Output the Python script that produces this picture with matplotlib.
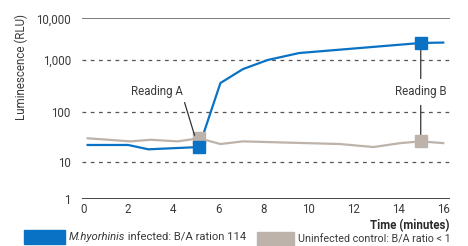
import numpy as np
import matplotlib
matplotlib.use("Agg")
import matplotlib.pyplot as plt
from matplotlib.patches import Rectangle

plt.rcParams['font.family'] = ['Roboto', 'DejaVu Sans']

# ---- data ----
infected_t = [0.2, 2.0, 2.9, 5.15, 6.1, 7.1, 8.2, 9.6, 15.0, 16.0]
infected_rlu = [22, 22, 18, 20, 363, 670, 1000, 1470, 2560, 2620]
control_t = [0.2, 2.1, 3.0, 4.2, 5.15, 6.1, 7.1, 11.4, 12.9, 14.1, 15.0, 16.0]
control_rlu = [30, 26, 28, 26, 30, 23, 26, 23, 20, 24, 26, 24]
reading_a_t = 5.15
reading_b_t = 15.0
reading_a = {"infected": 20, "control": 30}
reading_b = {"infected": 2560, "control": 26}
x_ticks = [0, 2, 4, 6, 8, 10, 12, 14, 16]
y_ticks = [1, 10, 100, 1000, 10000]
y_tick_labels = ["1", "10", "100", "1,000", "10,000"]
legend_labels = ["M.hyorhinis", " infected: B/A ration 114", "Uninfected control: B/A ratio < 1"]

BLUE = "#0a72c4"
GRAY = "#bdb3aa"
TXT = "#3a3a3a"
FS = 8.0

# uneven decade spacing as in the reference
K = [-10, 0, 1, 2, 3, 4, 14]
P = [-373, 0, 37.3, 87, 139.3, 181, 598]

def fwd(y):
    y = np.asarray(y, float)
    l = np.log10(np.clip(y, 1e-10, None))
    return np.interp(l, K, P)

def inv(v):
    v = np.asarray(v, float)
    return 10 ** np.interp(v, P, K)

W, H = 468, 246
fig = plt.figure(figsize=(W/100, H/100), dpi=100)
ax = fig.add_axes([82/W, 1-199.3/H, (450-82)/W, (199.3-18.3)/H])
ax.set_yscale('function', functions=(fwd, inv))
ax.set_ylim(1, 10000)
ax.set_xlim(-0.05, 16.3)

for s in ['top', 'right', 'left', 'bottom']:
    ax.spines[s].set_visible(False)

for v in y_ticks:
    if v == 1:
        ax.axhline(v, color="#444444", lw=1.4, zorder=1)
    elif v == 10000:
        ax.axhline(v, color="#7a7a7a", lw=1.4, zorder=1)
    else:
        ax.axhline(v, color="#555555", lw=0.9, dashes=(3, 3.6), zorder=1)

ax.set_yticks(y_ticks)
ax.set_yticklabels(y_tick_labels)
ax.set_xticks(x_ticks)
ax.tick_params(axis='both', length=0, labelsize=FS + 0.3, colors=TXT)
ax.tick_params(axis='y', pad=8)
ax.tick_params(axis='x', pad=3)
ax.yaxis.set_minor_locator(matplotlib.ticker.NullLocator())

ax.plot(control_t, control_rlu, color=GRAY, lw=1.6, zorder=3, solid_joinstyle='round')
ax.plot(infected_t, infected_rlu, color=BLUE, lw=1.6, zorder=4, solid_joinstyle='round')

ms = 8
ax.plot([reading_a_t], [reading_a["control"]], 's', color=GRAY, ms=ms, zorder=5)
ax.plot([reading_a_t], [reading_a["infected"]], 's', color=BLUE, ms=ms, zorder=6)
ax.plot([reading_b_t], [reading_b["control"]], 's', color=GRAY, ms=ms, zorder=5)
ax.plot([reading_b_t], [reading_b["infected"]], 's', color=BLUE, ms=ms, zorder=6)

ytext = 245
ax.annotate("Reading A", xy=(reading_a_t - 0.2, reading_a["control"] * 1.15), xytext=(3.3, ytext),
            ha='center', va='center', fontsize=FS + 0.3, color=TXT,
            arrowprops=dict(arrowstyle='-', color="#333333", lw=0.9, shrinkA=1, shrinkB=0,
                            relpos=(1.0, 0.0)), zorder=7)
ax.annotate("Reading B", xy=(reading_b_t, reading_b["infected"]), xytext=(reading_b_t, ytext),
            ha='center', va='center', fontsize=FS + 0.3, color=TXT,
            arrowprops=dict(arrowstyle='-', color="#333333", lw=0.9, shrinkA=3, shrinkB=4,
                            relpos=(0.5, 1.0)), zorder=3)
ax.annotate("Reading B", xy=(reading_b_t, reading_b["control"]), xytext=(reading_b_t, ytext),
            ha='center', va='center', fontsize=FS + 0.3, color='none',
            arrowprops=dict(arrowstyle='-', color="#333333", lw=0.9, shrinkA=3, shrinkB=4,
                            relpos=(0.5, 0.0)), zorder=3)

ax.set_ylabel("Luminescence (RLU)", fontsize=FS + 0.3, color=TXT)
ax.yaxis.set_label_coords(-0.147, 0.73)
fig.text(449/W, 1-226/H, "Time (minutes)", ha='right', va='center', fontsize=FS + 0.3,
         color="#2a2a2a", fontweight='bold')

# legend
fig.patches.append(Rectangle((24/W, 1-244/H), 41/W, 14/H, transform=fig.transFigure,
                             color=BLUE, figure=fig))
fig.patches.append(Rectangle((257/W, 1-246/H), 37/W, 14/H, transform=fig.transFigure,
                             color=GRAY, figure=fig))

renderer = fig.canvas.get_renderer()

def place_blue(fs):
    t1 = fig.text(69/W, 1-237.5/H, legend_labels[0], ha='left', va='center', fontsize=fs,
                  color=TXT, style='italic')
    bb = t1.get_window_extent(renderer)
    t2 = fig.text(bb.x1/W, 1-237.5/H, legend_labels[1], ha='left', va='center', fontsize=fs,
                  color=TXT)
    return t1, t2

t1, t2 = place_blue(FS)
end = t2.get_window_extent(renderer).x1
fs_blue = FS * (248 - 69) / (end - 69)
t1.remove(); t2.remove()
place_blue(fs_blue)

t3 = fig.text(298/W, 1-239.5/H, legend_labels[2], ha='left', va='center', fontsize=FS, color=TXT)
w3 = t3.get_window_extent(renderer).width
t3.set_fontsize(FS * 153 / w3)

fig.savefig("out.png", dpi=100)
